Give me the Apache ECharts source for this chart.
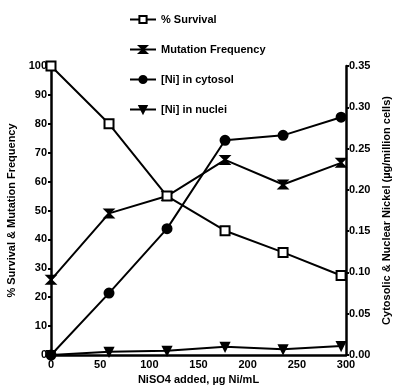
<!DOCTYPE html>
<html>
<head>
<meta charset="utf-8">
<script src="https://cdn.jsdelivr.net/npm/echarts@6/dist/echarts.min.js"></script>
<style>
  html, body { margin: 0; padding: 0; background: #fff; }
  #chart { width: 395px; height: 388px; }
</style>
</head>
<body>
<div id="chart"></div>
<script>
// NiSO4 added (ug Ni/mL)
const doses = [0, 59, 118, 177, 236, 295];
// left axis (%)
const survival = [100, 80, 55, 43, 35.5, 27.5];
const mutation = [26, 49, 55, 67.5, 59, 66.5];
// right axis (ug/million cells)
const cytosol = [0, 0.075, 0.153, 0.26, 0.266, 0.288];
const nuclei = [0, 0.004, 0.005, 0.010, 0.007, 0.011];

const pairs = (xs, ys) => xs.map((x, i) => [x, ys[i]]);

const font = 'Liberation Sans, Arial, sans-serif';
const txt = { color: '#000', fontFamily: font, fontWeight: 'bold', fontSize: 11 };
const hourglass = 'path://M0,0 L10,0 L0,10 L10,10 Z';

let chart = echarts.init(document.getElementById('chart'));

let line = (name, data, yAxisIndex, symbol, fill, size) => ({
  name: name,
  type: 'line',
  yAxisIndex: yAxisIndex,
  data: data,
  symbol: symbol,
  symbolSize: size,
  lineStyle: { color: '#000', width: 2 },
  itemStyle: { color: fill, borderColor: '#000', borderWidth: 2 },
  z: symbol === 'rect' ? 3 : 2
});

let option = {
  animation: false,
  grid: { left: 51, right: 49, top: 66, bottom: 33, outerBoundsMode: 'none' },
  legend: {
    orient: 'vertical',
    left: 124,
    top: 9,
    itemGap: 19,
    itemWidth: 26,
    itemHeight: 9,
    textStyle: Object.assign({}, txt, { fontSize: 11 }),
    data: ['% Survival', 'Mutation Frequency', '[Ni] in cytosol', '[Ni] in nuclei']
  },
  xAxis: {
    type: 'value',
    min: 0, max: 300, interval: 50,
    name: 'NiSO4 added, µg Ni/mL',
    nameLocation: 'middle',
    nameGap: 18,
    nameTextStyle: txt,
    axisLine: { lineStyle: { color: '#000', width: 2.5 } },
    axisTick: { show: false },
    axisLabel: Object.assign({}, txt, { margin: 4 }),
    splitLine: { show: false }
  },
  yAxis: [
    {
      type: 'value',
      min: 0, max: 100, interval: 10,
      name: '% Survival & Mutation Frequency',
      nameLocation: 'middle',
      nameGap: 31,
      nameRotate: 90,
      nameTextStyle: txt,
      axisLine: { show: true, lineStyle: { color: '#000', width: 2.5 } },
      axisTick: { show: true, length: 3, lineStyle: { color: '#000', width: 2 } },
      axisLabel: Object.assign({}, txt, { margin: 4 }),
      splitLine: { show: false }
    },
    {
      type: 'value',
      min: 0, max: 0.35, interval: 0.05,
      name: 'Cytosolic & Nuclear Nickel (µg/million cells)',
      nameLocation: 'middle',
      nameGap: 35,
      nameRotate: 90,
      nameTextStyle: txt,
      axisLine: { show: true, lineStyle: { color: '#000', width: 2.5 } },
      axisTick: { show: true, length: 3, lineStyle: { color: '#000', width: 2 } },
      axisLabel: Object.assign({}, txt, { margin: 3, formatter: v => v.toFixed(2) }),
      splitLine: { show: false }
    }
  ],
  series: [
    line('% Survival', pairs(doses, survival), 0, 'rect', '#fff', 9),
    line('Mutation Frequency', pairs(doses, mutation), 0, hourglass, '#000', 8),
    line('[Ni] in cytosol', pairs(doses, cytosol), 1, 'circle', '#000', 9),
    line('[Ni] in nuclei', pairs(doses, nuclei), 1, 'triangle', '#000', 8)
  ]
};

// nuclei marker points down
option.series[3].symbolRotate = 180;

chart.setOption(option);
</script>
</body>
</html>
